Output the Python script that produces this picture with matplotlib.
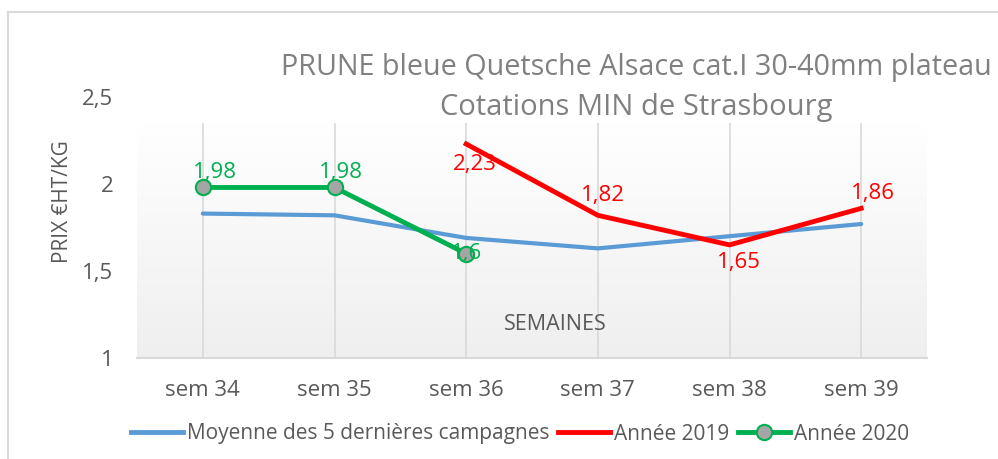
import numpy as np
import matplotlib
matplotlib.use("Agg")
import matplotlib.pyplot as plt
from matplotlib.lines import Line2D

plt.rcParams['font.family'] = ['Open Sans', 'DejaVu Sans']

# -------------------- DATA --------------------
weeks = ["sem 34", "sem 35", "sem 36", "sem 37", "sem 38", "sem 39"]
moyenne = [1.83, 1.82, 1.69, 1.63, 1.70, 1.77]
annee_2019 = [np.nan, np.nan, 2.23, 1.82, 1.65, 1.86]
annee_2020 = [1.98, 1.98, 1.60, np.nan, np.nan, np.nan]
y_ticks = [1, 1.5, 2, 2.5]
y_tick_labels = ["1", "1,5", "2", "2,5"]

title_lines = ["PRUNE bleue Quetsche Alsace cat.I 30-40mm plateau",
               "Cotations MIN de Strasbourg"]

BLUE = "#5B9BD5"
RED = "#FF0000"
GREEN = "#00B050"
GREY_TXT = "#595959"
GRID = "#D9D9D9"

fig = plt.figure(figsize=(9.98, 4.59), dpi=100)
ax = fig.add_axes([137 / 998, 1 - 358 / 459, 790 / 998, 261 / 459])
x = np.arange(len(weeks))

# outer chart border (only top and left visible)
fig.add_artist(Line2D([8 / 998, 8 / 998], [0, 1 - 12 / 459], color=GRID, lw=1.5))
fig.add_artist(Line2D([8 / 998, 1], [1 - 12 / 459, 1 - 12 / 459], color=GRID, lw=1.5))

# plot-area gradient
grad_top = 2.35
grad = np.linspace(0, 1, 256).reshape(-1, 1)
c_bot = np.array([0.937, 0.937, 0.937])
c_top = np.array([1.0, 1.0, 1.0])
img = c_bot + (c_top - c_bot) * grad[:, :, None] * np.ones((1, 1, 3))
ax.imshow(img, extent=(-0.5, len(weeks) - 0.5, 1, grad_top), origin="lower",
          aspect="auto", zorder=0)

# vertical grid lines
ax.vlines(x, 1, grad_top, colors=GRID, lw=1.2, zorder=1)

ax.plot(x, moyenne, color=BLUE, lw=3, zorder=3, solid_capstyle="round")
ax.plot(x, annee_2019, color=RED, lw=3.5, zorder=4)
ax.plot(x, annee_2020, color=GREEN, lw=3.5, zorder=5, marker="o", ms=11,
        markerfacecolor="#A5A5A5", markeredgecolor=GREEN, markeredgewidth=1.5)

ax.set_xlim(-0.5, len(weeks) - 0.5)
ax.set_ylim(1, 2.5)
ax.set_xticks(x)
ax.set_xticklabels(weeks)
ax.set_yticks(y_ticks)
ax.set_yticklabels(y_tick_labels)
ax.tick_params(length=0, labelsize=16, labelcolor=GREY_TXT)
ax.tick_params(axis="y", pad=17)
ax.tick_params(axis="x", pad=16)
for s in ["top", "right", "left"]:
    ax.spines[s].set_visible(False)
ax.spines["bottom"].set_color(GRID)
ax.spines["bottom"].set_linewidth(1.5)
ax.patch.set_alpha(0)

# data labels
def fmt(v):
    return ("%g" % v).replace(".", ",")

offs_2020 = [(9, 11), (4.5, 11), (0, 0)]
for i, (dx, dy) in enumerate(offs_2020):
    ax.annotate(fmt(annee_2020[i]), (x[i], annee_2020[i]), xytext=(dx, dy),
                textcoords="offset points", ha="center", va="center",
                color=GREEN, fontsize=16, zorder=6)

offs_2019 = {2: (6.5, -15), 3: (3.6, 14), 4: (7, -13), 5: (8.6, 11)}
for i, (dx, dy) in offs_2019.items():
    ax.annotate(fmt(annee_2019[i]), (x[i], annee_2019[i]), xytext=(dx, dy),
                textcoords="offset points", ha="center", va="center",
                color=RED, fontsize=16, zorder=6)

ax.text(555 / 998, 1 - 325 / 459, "SEMAINES", transform=fig.transFigure,
        ha="center", va="center", color=GREY_TXT, fontsize=15.5)
fig.text(62 / 998, 1 - 202 / 459, "PRIX €HT/KG", rotation=90, ha="center",
         va="center", color=GREY_TXT, fontsize=15)

# title: first line kept just inside the right edge
fig.text(281 / 998, 1 - 68 / 459, title_lines[0], ha="left", va="center",
         color="#808080", fontsize=20.7)
fig.text(636 / 998, 1 - 108 / 459, title_lines[1], ha="center", va="center",
         color="#808080", fontsize=21)

handles = [
    Line2D([], [], color=BLUE, lw=3.5),
    Line2D([], [], color=RED, lw=3.5),
    Line2D([], [], color=GREEN, lw=3.5, marker="o", ms=11,
           markerfacecolor="#A5A5A5", markeredgecolor=GREEN, markeredgewidth=1.5),
]
labels = ["Moyenne des 5 dernières campagnes", "Année 2019", "Année 2020"]
leg = fig.legend(handles, labels, loc="center", bbox_to_anchor=(520 / 998, 1 - 434 / 459),
                 ncol=3, frameon=False, fontsize=15, handlelength=2.5,
                 handletextpad=0.2, columnspacing=0.4, borderpad=0)
for t in leg.get_texts():
    t.set_color(GREY_TXT)

fig.savefig("out.png", dpi=100)
